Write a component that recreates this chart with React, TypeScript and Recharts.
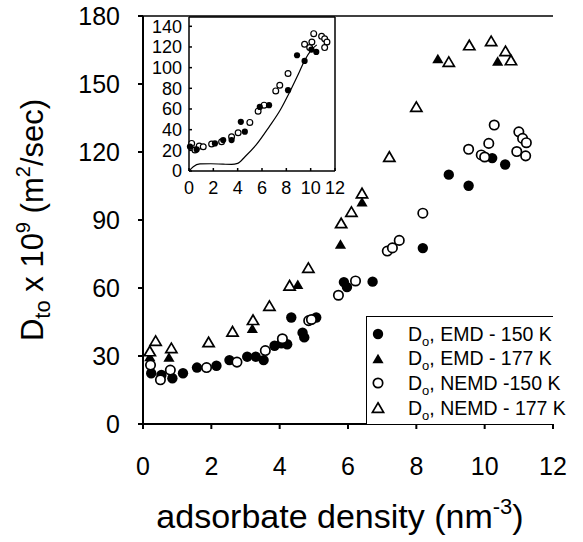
import {
  ScatterChart,
  Scatter,
  ComposedChart,
  Line,
  XAxis,
  YAxis,
  ReferenceLine,
  Legend,
} from "recharts";

const font = "'Liberation Sans', Arial, Helvetica, sans-serif";

// main plot
const emd150X = [0.24, 0.54, 0.86, 1.17, 1.58, 2.15, 2.53, 3.05, 3.3, 3.53, 3.85, 4.05, 4.22, 4.34, 4.67, 4.72, 5.07, 5.88, 5.97, 6.72, 8.19, 8.95, 9.53, 10.22, 10.6];
const emd150Y = [22.4, 21.6, 20.2, 22.4, 24.9, 25.7, 28.2, 29.7, 29.7, 28.2, 34.5, 35.6, 35.2, 47, 40.3, 38.2, 47, 62.6, 60.4, 62.8, 77.6, 110, 105.1, 117.3, 114.5];

const emd177X = [0.2, 0.76, 3.2, 4.53, 5.78, 6.41, 8.63, 10.38];
const emd177Y = [29.6, 29.4, 42, 61.5, 79.2, 97.8, 161, 160];

const nemd150X = [0.22, 0.51, 0.8, 1.86, 2.75, 3.58, 4.08, 4.85, 4.93, 5.72, 6.22, 7.15, 7.3, 7.5, 8.19, 9.53, 9.9, 10.0, 10.12, 10.28, 10.94, 11.0, 11.11, 11.2, 11.22];
const nemd150Y = [26, 19.5, 23.8, 24.9, 27.3, 32.4, 37.6, 45.6, 46.1, 56.8, 63.1, 76.3, 77.7, 81, 93, 121.2, 118.7, 117.8, 123.8, 131.9, 120.2, 128.9, 126, 118.3, 124.1];

const nemd177X = [0.2, 0.37, 0.83, 1.92, 2.62, 3.22, 3.7, 4.29, 4.84, 5.8, 6.1, 6.41, 7.21, 8.0, 8.95, 9.55, 10.19, 10.61, 10.77];
const nemd177Y = [32, 36.6, 33.4, 36, 40.7, 45.8, 52, 61, 68.8, 88.5, 93.5, 101.7, 117.8, 139.8, 159.7, 167, 168.8, 164.4, 160.4];

const seriesNames = ["EMD - 150 K", "EMD - 177 K", "NEMD -150 K", "NEMD - 177 K"];

const mainXTicks = [0, 2, 4, 6, 8, 10, 12];
const mainYTicks = [0, 30, 60, 90, 120, 150, 180];

// inset
const insetFilledX = [0.08, 0.63, 2.13, 2.81, 3.5, 4.26, 4.59, 5.82, 6.58, 8.14, 8.88, 9.5, 10.06, 10.46];
const insetFilledY = [23.5, 20.9, 26.7, 29.9, 29.9, 47.6, 38, 62, 63.7, 78.2, 112, 106.5, 117.5, 115.2];

const insetOpenX = [0.22, 0.49, 0.84, 1.17, 1.86, 2.68, 3.5, 4.04, 5.0, 5.68, 6.17, 7.13, 7.46, 8.14, 9.5, 9.92, 10.1, 10.25, 10.9, 11.15, 11.34, 11.15];
const insetOpenY = [26.7, 20.3, 24.1, 23.5, 26.1, 28.3, 33.1, 37, 47, 57.9, 63.7, 77.5, 83, 94.3, 122.6, 119.4, 124.8, 132.9, 130.3, 128, 124.8, 119.4];

const curveX = [0, 0.35, 0.9, 1.8, 2.8, 3.5, 4.0, 4.6, 5.5, 6.6, 7.5, 8.3, 9.0, 9.5, 10.05, 10.5];
const curveY = [0, 4.2, 6.8, 7, 6.6, 6.4, 7.4, 13.8, 25, 43, 59, 77, 94, 107, 117, 122];

const insetXTicks = [0, 2, 4, 6, 8, 10, 12];
const insetYTicks = [0, 20, 40, 60, 80, 100, 120, 140];

const zip = (xs: number[], ys: number[]) => xs.map((x, i) => ({ x, y: ys[i] }));

const emd150 = zip(emd150X, emd150Y);
const emd177 = zip(emd177X, emd177Y);
const nemd150 = zip(nemd150X, nemd150Y);
const nemd177 = zip(nemd177X, nemd177Y);
const insetFilled = zip(insetFilledX, insetFilledY);
const insetOpen = zip(insetOpenX, insetOpenY);
const curve = zip(curveX, curveY);

const triPath = (cx: number, cy: number) =>
  `M${cx},${cy - 5.2} L${cx + 5.6},${cy + 4.3} L${cx - 5.6},${cy + 4.3} Z`;

const FilledCircle = (p: any) => <circle cx={p.cx} cy={p.cy} r={5.2} fill="#000" />;
const OpenCircle = (p: any) => (
  <circle cx={p.cx} cy={p.cy} r={4.7} fill="#fff" stroke="#000" strokeWidth={1.7} />
);
const FilledTri = (p: any) => <path d={triPath(p.cx, p.cy)} fill="#000" />;
const OpenTri = (p: any) => (
  <path d={triPath(p.cx, p.cy)} fill="#fff" stroke="#000" strokeWidth={1.7} strokeLinejoin="miter" />
);

const SmallFilled = (p: any) => <circle cx={p.cx} cy={p.cy} r={3.1} fill="#000" />;
const SmallOpen = (p: any) => (
  <circle cx={p.cx} cy={p.cy} r={2.9} fill="#fff" stroke="#000" strokeWidth={1.2} />
);

const legendIcons = [FilledCircle, FilledTri, OpenCircle, OpenTri];

const LegendBox = () => (
  <div
    style={{
      width: 187,
      height: 108,
      borderTop: "1.5px solid #000",
      borderLeft: "1.5px solid #000",
      boxSizing: "border-box",
      fontFamily: font,
      fontSize: 19.5,
      color: "#000",
      position: "relative",
      background: "#fff",
    }}
  >
    {seriesNames.map((name, i) => {
      const Icon = legendIcons[i];
      return (
        <div
          key={name}
          style={{
            position: "absolute",
            left: 0,
            top: 17 + i * 24.7 - 11,
            height: 22,
            display: "flex",
            alignItems: "center",
            whiteSpace: "nowrap",
          }}
        >
          <svg width={24} height={22}>
            <Icon cx={11} cy={11} />
          </svg>
          <span style={{ marginLeft: 17 }}>
            D<span style={{ fontSize: 13, position: "relative", top: 5 }}>o</span>, {name}
          </span>
        </div>
      );
    })}
  </div>
);

const YTitle = (props: any) => {
  const vb = props.viewBox;
  const cy = vb.y + vb.height / 2;
  const cx = 43;
  return (
    <text
      x={cx}
      y={cy}
      transform={`rotate(-90, ${cx}, ${cy})`}
      textAnchor="middle"
      fontFamily={font}
      fontSize={31}
      fill="#000"
    >
      D
      <tspan fontSize={22} dy={7}>to</tspan>
      <tspan dy={-7}> x 10</tspan>
      <tspan fontSize={20} dy={-13}>9</tspan>
      <tspan dy={13}> (m</tspan>
      <tspan fontSize={20} dy={-13}>2</tspan>
      <tspan dy={13}>/sec)</tspan>
    </text>
  );
};

const XTitle = (props: any) => {
  const vb = props.viewBox;
  const cx = vb.x + vb.width / 2 - 8;
  return (
    <text x={cx} y={528} textAnchor="middle" fontFamily={font} fontSize={34} fill="#000">
      adsorbate density (nm
      <tspan fontSize={22} dy={-14}>-3</tspan>
      <tspan dy={14}>)</tspan>
    </text>
  );
};

const tickStyle = { fontFamily: font, fontSize: 25, fill: "#000" };
const insetTickStyle = { fontFamily: font, fontSize: 18, fill: "#000" };

export default function App() {
  return (
    <div style={{ position: "absolute", left: 0, top: 0, width: 583, height: 542, background: "#fff" }}>
      <ScatterChart width={583} height={542} margin={{ top: 16, right: 30, bottom: 0, left: 0 }}>
        <XAxis
          type="number"
          dataKey="x"
          domain={[0, 12]}
          ticks={mainXTicks}
          interval={0}
          height={118}
          stroke="#000"
          strokeWidth={2}
          tickSize={5}
          tickMargin={28}
          tick={tickStyle}
          label={<XTitle />}
        />
        <YAxis
          type="number"
          dataKey="y"
          domain={[0, 180]}
          ticks={mainYTicks}
          interval={0}
          width={143}
          stroke="#000"
          strokeWidth={2}
          tickSize={5}
          tickMargin={18}
          tick={tickStyle}
          label={<YTitle />}
        />
        <ReferenceLine y={180} stroke="#000" strokeWidth={1.5} />
        <Scatter name={seriesNames[0]} data={emd150} shape={FilledCircle} isAnimationActive={false} />
        <Scatter name={seriesNames[1]} data={emd177} shape={FilledTri} isAnimationActive={false} />
        <Scatter name={seriesNames[2]} data={nemd150} shape={OpenCircle} isAnimationActive={false} />
        <Scatter name={seriesNames[3]} data={nemd177} shape={OpenTri} isAnimationActive={false} />
        <Legend
          layout="vertical"
          align="center"
          verticalAlign="middle"
          content={<LegendBox />}
          wrapperStyle={{ left: 366, top: 316, width: 187, height: 108, bottom: "auto", right: "auto" }}
        />
      </ScatterChart>

      <div style={{ position: "absolute", left: 145, top: 10 }}>
        <ComposedChart width={200} height={190} margin={{ top: 7, right: 10, bottom: 0, left: 0 }}>
          <XAxis
            type="number"
            dataKey="x"
            domain={[0, 12]}
            ticks={insetXTicks}
            interval={0}
            height={29}
            stroke="#000"
            strokeWidth={1.5}
            tickSize={-3}
            tickMargin={13}
            tick={insetTickStyle}
          />
          <YAxis
            type="number"
            dataKey="y"
            domain={[0, 149]}
            ticks={insetYTicks}
            interval={0}
            width={44}
            stroke="#000"
            strokeWidth={1.5}
            tickSize={-3}
            tickMargin={10}
            tick={insetTickStyle}
          />
          <ReferenceLine x={12} stroke="#000" strokeWidth={1.5} />
          <ReferenceLine y={149} stroke="#000" strokeWidth={1.5} />
          <Line
            data={curve}
            dataKey="y"
            type="monotone"
            stroke="#000"
            strokeWidth={1.2}
            dot={false}
            isAnimationActive={false}
          />
          <Scatter data={insetOpen} shape={SmallOpen} isAnimationActive={false} />
          <Scatter data={insetFilled} shape={SmallFilled} isAnimationActive={false} />
        </ComposedChart>
      </div>
    </div>
  );
}
